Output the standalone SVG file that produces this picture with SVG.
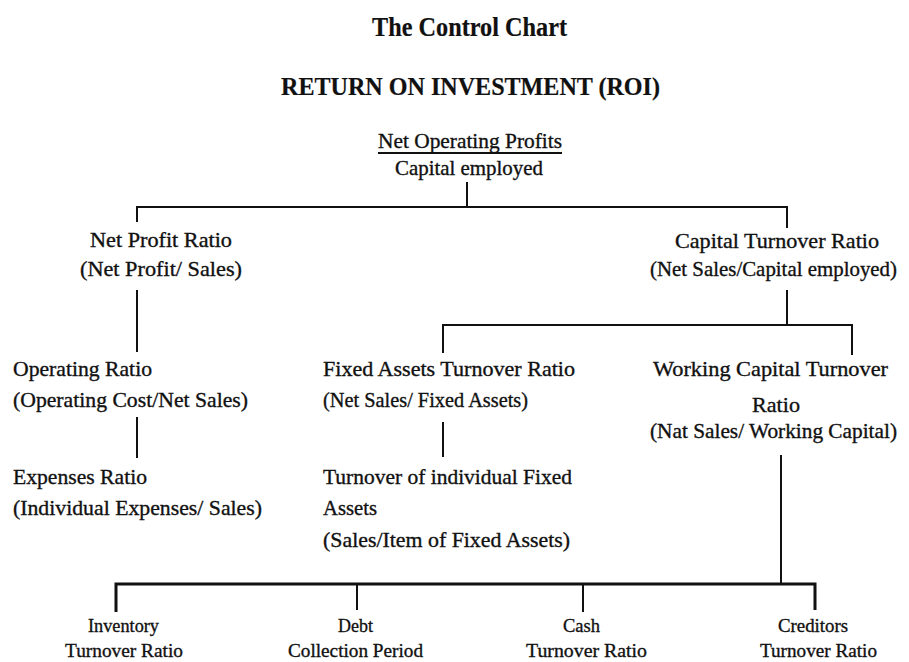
<svg xmlns="http://www.w3.org/2000/svg" width="909" height="662" viewBox="0 0 909 662">
  <style>
    .t { font-family: "Liberation Serif", "Times New Roman", serif; fill: #111; stroke: #111; stroke-width: 0.35; }
    .h { font-weight: bold; stroke-width: 0.2; }
    .m { font-size: 21.5px; }
    .s { font-size: 19.5px; }
    .ln { fill: none; stroke: #111; stroke-width: 2; stroke-linejoin: miter; }
    .bus { stroke-width: 3; }
  </style>
  <rect width="909" height="662" fill="#fff"/>

  <!-- headings -->
  <g id="heading">
    <text class="t h" x="372" y="36" font-size="27" textLength="195" lengthAdjust="spacingAndGlyphs">The Control Chart</text>
    <text class="t h" x="281" y="95" font-size="25" textLength="379" lengthAdjust="spacingAndGlyphs">RETURN ON INVESTMENT (ROI)</text>
  </g>

  <!-- root ratio -->
  <g id="roi">
    <text class="t m" x="378" y="148" textLength="184" lengthAdjust="spacingAndGlyphs">Net Operating Profits</text>
    <line x1="378" y1="153" x2="562" y2="153" stroke="#111" stroke-width="2"/>
    <text class="t m" x="395" y="175" textLength="148" lengthAdjust="spacingAndGlyphs">Capital employed</text>
  </g>

  <g id="net-profit-ratio">
    <text class="t m" x="90" y="247" textLength="142" lengthAdjust="spacingAndGlyphs">Net Profit Ratio</text>
    <text class="t m" x="80" y="276" textLength="162" lengthAdjust="spacingAndGlyphs">(Net Profit/ Sales)</text>
  </g>

  <g id="capital-turnover-ratio">
    <text class="t m" x="675" y="248" textLength="204" lengthAdjust="spacingAndGlyphs">Capital Turnover Ratio</text>
    <text class="t m" x="650" y="276" textLength="247" lengthAdjust="spacingAndGlyphs">(Net Sales/Capital employed)</text>
  </g>

  <g id="operating-ratio">
    <text class="t m" x="13" y="376" textLength="139" lengthAdjust="spacingAndGlyphs">Operating Ratio</text>
    <text class="t m" x="13" y="407" textLength="235" lengthAdjust="spacingAndGlyphs">(Operating Cost/Net Sales)</text>
  </g>

  <g id="expenses-ratio">
    <text class="t m" x="13" y="484" textLength="134" lengthAdjust="spacingAndGlyphs">Expenses Ratio</text>
    <text class="t m" x="13" y="515" textLength="249" lengthAdjust="spacingAndGlyphs">(Individual Expenses/ Sales)</text>
  </g>

  <g id="fixed-assets-turnover">
    <text class="t m" x="323" y="376" textLength="252" lengthAdjust="spacingAndGlyphs">Fixed Assets Turnover Ratio</text>
    <text class="t m" x="323" y="407" textLength="205" lengthAdjust="spacingAndGlyphs">(Net Sales/ Fixed Assets)</text>
  </g>

  <g id="individual-fixed-assets">
    <text class="t m" x="323" y="484" textLength="249" lengthAdjust="spacingAndGlyphs">Turnover of individual Fixed</text>
    <text class="t m" x="323" y="515" textLength="54" lengthAdjust="spacingAndGlyphs">Assets</text>
    <text class="t m" x="323" y="547" textLength="247" lengthAdjust="spacingAndGlyphs">(Sales/Item of Fixed Assets)</text>
  </g>

  <g id="working-capital-turnover">
    <text class="t m" x="653" y="376" textLength="235" lengthAdjust="spacingAndGlyphs">Working Capital Turnover</text>
    <text class="t m" x="752" y="412" textLength="48" lengthAdjust="spacingAndGlyphs">Ratio</text>
    <text class="t m" x="650" y="438" textLength="247" lengthAdjust="spacingAndGlyphs">(Nat Sales/ Working Capital)</text>
  </g>

  <g id="inventory-turnover">
    <text class="t s" x="88" y="632" textLength="71" lengthAdjust="spacingAndGlyphs">Inventory</text>
    <text class="t s" x="65" y="657" textLength="118" lengthAdjust="spacingAndGlyphs">Turnover Ratio</text>
  </g>

  <g id="debt-collection">
    <text class="t s" x="338" y="632" textLength="35" lengthAdjust="spacingAndGlyphs">Debt</text>
    <text class="t s" x="288" y="657" textLength="135" lengthAdjust="spacingAndGlyphs">Collection Period</text>
  </g>

  <g id="cash-turnover">
    <text class="t s" x="563" y="632" textLength="37" lengthAdjust="spacingAndGlyphs">Cash</text>
    <text class="t s" x="526" y="657" textLength="121" lengthAdjust="spacingAndGlyphs">Turnover Ratio</text>
  </g>

  <g id="creditors-turnover">
    <text class="t s" x="778" y="632" textLength="70" lengthAdjust="spacingAndGlyphs">Creditors</text>
    <text class="t s" x="760" y="657" textLength="117" lengthAdjust="spacingAndGlyphs">Turnover Ratio</text>
  </g>

  <!-- connectors -->
  <g id="connectors">
    <path class="ln" d="M467 182 V207"/>
    <path class="ln" d="M137 222 V207 H787 V228"/>
    <path class="ln" d="M137 290 V352"/>
    <path class="ln" d="M787 290 V325"/>
    <path class="ln" d="M443 353 V325 H852 V355"/>
    <path class="ln" d="M137 417 V458"/>
    <path class="ln" d="M443 422 V457"/>
    <path class="ln" d="M781 455 V584"/>
    <path class="ln bus" d="M116 612 V584 H815 V610"/>
    <path class="ln" d="M357 584 V610"/>
    <path class="ln" d="M583 584 V612"/>
  </g>
</svg>
